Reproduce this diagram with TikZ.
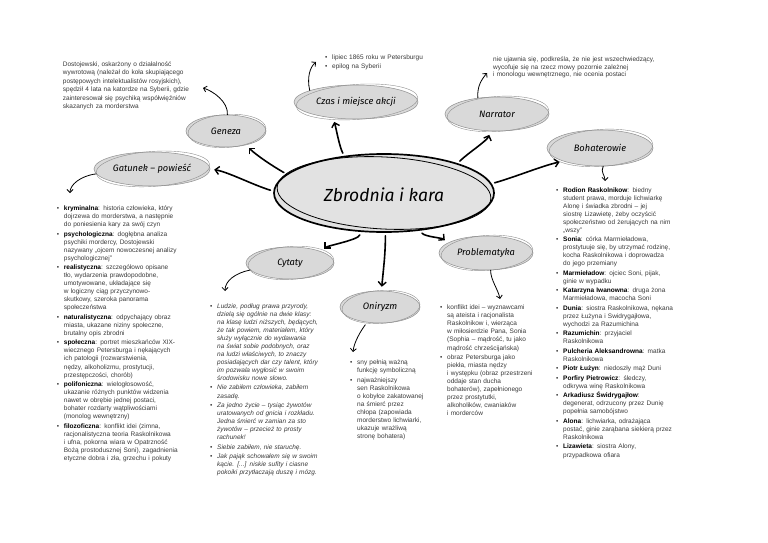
\documentclass[tikz,border=0pt]{standalone}
\usepackage{fontspec}
\setmainfont{Liberation Sans}
\newfontfamily\hand{Fira Sans}
\usetikzlibrary{shapes.geometric,arrows.meta}
\definecolor{bubfill}{HTML}{D9D9D9}
\definecolor{bubline}{HTML}{8E8E8E}
\definecolor{txtcol}{HTML}{3A3A3A}
\definecolor{cfill}{HTML}{E2E2E2}
\newcommand\bi[1]{\par\hangindent=7pt\hangafter=1\noindent\hbox to 7pt{\textbullet\hfil}#1\par\vspace{1.4pt}}
\newcommand\nl{\newline}
\newcommand\bb[1]{\textbf{\color{black}#1}}
\tikzset{
 bub/.style={ellipse, fill=bubfill, draw=bubline, line width=0.5pt, inner sep=0pt, font=\hand\itshape\fontsize{9.3}{11}\selectfont, text=black},
 bigarr/.style={line width=1.6pt, line cap=round, -{Straight Barb[length=4pt,width=8pt,line width=1.4pt]}, shorten <=3pt, shorten >=4pt},
 smallarr/.style={line width=0.8pt, line cap=round, -{Straight Barb[length=3pt,width=6pt,line width=0.8pt]}},
 txt/.style={anchor=north west, inner sep=0pt, text width=#1, align=left, font=\fontsize{6.5}{8.05}\selectfont, text=txtcol},
}
\newcommand\bubble[6]{%
 \node[bub, minimum width={2*#4}, minimum height={2*#5}] (#1) at (#2,#3) {#6};
 \draw[bubline, line width=0.4pt, rotate around={4:(#1.center)}] ([xshift=1pt]#1.center) ellipse [x radius={#4-1}, y radius={#5+0.5}];
}
\begin{document}
\begin{tikzpicture}[x=1pt,y=-1pt]
\useasboundingbox (0,0) rectangle (768,543);
\fill[white] (0,0) rectangle (768,543);

% central
\node[ellipse, fill=cfill, draw=black, line width=1.7pt, minimum width=220, minimum height=78, inner sep=0pt] (c) at (384,193) {};
\draw[line width=0.8pt, rotate around={-3:(c.center)}] (c.center) ellipse [x radius=107, y radius=36];
\node[font=\hand\itshape\fontsize{17.5}{20}\selectfont] (ct) at (384,195) {Zbrodnia i kara};

% bubbles
\bubble{gen}{226}{131}{40}{16}{Geneza}
\bubble{czas}{356}{102}{62}{17}{Czas i miejsce akcji}
\bubble{nar}{497}{114}{52}{17}{Narrator}
\bubble{boh}{600}{148}{53}{18}{Bohaterowie}
\bubble{gat}{152}{169}{58}{17}{Gatunek – powieść}
\bubble{cyt}{290}{263}{44}{16}{Cytaty}
\bubble{oni}{380}{307}{40}{16}{Oniryzm}
\bubble{prob}{486}{253}{47}{17}{Problematyka}

% big arrows
\draw[bigarr] (c.179) .. controls +(-20,-6) and +(18,3) .. (gat.0);
\draw[bigarr] (c.169) .. controls +(-14,-8) and +(10,10) .. (gen.-35);
\draw[bigarr] (c.137) .. controls +(-5,-10) and +(3,10) .. (czas.-145);
\draw[bigarr] (c.22) .. controls +(10,-10) and +(-4,10) .. (nar.-110);
\draw[bigarr] (c.5) .. controls +(22,-6) and +(-20,4) .. (boh.200);
\draw[bigarr] (c.-121) .. controls +(-2,8) and +(6,-6) .. (cyt.20);
\draw[bigarr] (c.-88) .. controls +(0,22) and +(2,-22) .. (oni.85);
\draw[bigarr] (c.-46) .. controls +(4,6) and +(-6,-5) .. (prob.165);

% small arrows
\coordinate (gT) at (203,88);
\draw[smallarr] (gen.85) .. controls +(1,-13) and +(10,3) .. (gT);
\coordinate (czT) at (316,62);
\draw[smallarr] (czas.166) .. controls +(-3,-13) and +(-6,5) .. (czT);
\coordinate (nT) at (487,73);
\draw[smallarr] (nar.140) .. controls +(-1,-12) and +(-5,6) .. (nT);
\coordinate (bT) at (605,181);
\draw[smallarr] (boh.-80) .. controls +(-3,6) and +(0,-6) .. (bT);
\coordinate (gaT) at (70,193);
\draw[smallarr] (gat.185) .. controls +(-16,2) and +(0,-8) .. (gaT);
\coordinate (cyT) at (225,291);
\draw[smallarr] (cyt.-170) .. controls +(-15,3) and +(0,-10) .. (cyT);
\coordinate (oT) at (353,352);
\draw[smallarr, shorten <=3pt] (oni.-130) .. controls +(-6,8) and +(1,-10) .. (oT);
\coordinate (pT) at (500,299);
\draw[smallarr] (prob.-75) .. controls +(0,10) and +(-2,-10) .. (pT);

% texts
\node[txt=170, font=\fontsize{6.5}{8.4}\selectfont] (dost) at (62.7,61.5) {Dostojewski, oskarżony o działalność\nl wywrotową (należał do koła skupiającego\nl postępowych intelektualistów rosyjskich),\nl spędził 4 lata na katordze na Syberii, gdzie\nl zainteresował się psychiką współwięźniów\nl skazanych za morderstwa};

\node[txt=150, font=\fontsize{6.5}{7.8}\selectfont] (czl) at (325,51.5) {\bi{lipiec 1865 roku w Petersburgu}\bi{epilog na Syberii}};

\node[txt=220, font=\fontsize{6.5}{7.5}\selectfont] (narl) at (493,57) {nie ujawnia się, podkreśla, że nie jest wszechwiedzący,\nl wycofuje się na rzecz mowy pozornie zależnej\nl i monologu wewnętrznego, nie ocenia postaci};

\node[txt=170] (gatl) at (56.7,202.2) {%
\bi{\bb{kryminalna}: historia człowieka, który\nl dojrzewa do morderstwa, a następnie\nl do poniesienia kary za swój czyn}%
\bi{\bb{psychologiczna}: dogłębna analiza\nl psychiki mordercy, Dostojewski\nl nazywany „ojcem nowoczesnej analizy\nl psychologicznej”}%
\bi{\bb{realistyczna}: szczegółowo opisane\nl tło, wydarzenia prawdopodobne,\nl umotywowane, układające się\nl w logiczny ciąg przyczynowo-\nl skutkowy, szeroka panorama\nl społeczeństwa}%
\bi{\bb{naturalistyczna}: odpychający obraz\nl miasta, ukazane niziny społeczne,\nl brutalny opis zbrodni}%
\bi{\bb{społeczna}: portret mieszkańców XIX-\nl wiecznego Petersburga i nękających\nl ich patologii (rozwarstwienia,\nl nędzy, alkoholizmu, prostytucji,\nl przestępczości, chorób)}%
\bi{\bb{polifoniczna}: wielogłosowość,\nl ukazanie różnych punktów widzenia\nl nawet w obrębie jednej postaci,\nl bohater rozdarty wątpliwościami\nl (monolog wewnętrzny)}%
\bi{\bb{filozoficzna}: konflikt idei (zimna,\nl racjonalistyczna teoria Raskolnikowa\nl i ufna, pokorna wiara w Opatrzność\nl Bożą prostodusznej Soni), zagadnienia\nl etyczne dobra i zła, grzechu i pokuty}};

\node[txt=160] (cytl) at (210,299.8) {%
\bi{\itshape Ludzie, podług prawa przyrody,\nl dzielą się ogólnie na dwie klasy:\nl na klasę ludzi niższych, będących,\nl że tak powiem, materiałem, który\nl służy wyłącznie do wydawania\nl na świat sobie podobnych, oraz\nl na ludzi właściwych, to znaczy\nl posiadających dar czy talent, który\nl im pozwala wygłosić w swoim\nl środowisku nowe słowo.}%
\bi{\itshape Nie zabiłem człowieka, zabiłem\nl zasadę.}%
\bi{\itshape Za jedno życie – tysiąc żywotów\nl uratowanych od gnicia i rozkładu.\nl Jedna śmierć w zamian za sto\nl żywotów – przecież to prosty\nl rachunek!}%
\bi{Siebie zabiłem, nie staruchę.}%
\bi{\itshape Jak pająk schowałem się w swoim\nl kącie. [...] niskie sufity i ciasne\nl pokoiki przytłaczają duszę i mózg.}};

\node[txt=95] (onil) at (350,356.5) {%
\bi{sny pełnią ważną\nl funkcję symboliczną}%
\bi{najważniejszy\nl sen Raskolnikowa\nl o kobyłce zakatowanej\nl na śmierć przez\nl chłopa (zapowiada\nl morderstwo lichwiarki,\nl ukazuje wrażliwą\nl stronę bohatera)}};

\node[txt=120] (probl) at (440,301.5) {%
\bi{konflikt idei – wyznawcami\nl są ateista i racjonalista\nl Raskolnikow i, wierząca\nl w miłosierdzie Pana, Sonia\nl (Sophia – mądrość, tu jako\nl mądrość chrześcijańska)}%
\bi{obraz Petersburga jako\nl piekła, miasta nędzy\nl i występku (obraz przestrzeni\nl oddaje stan ducha\nl bohaterów), zapełnionego\nl przez prostytutki,\nl alkoholików, cwaniaków\nl i morderców}};

\node[txt=170] (bohl) at (556,183.8) {%
\bi{\bb{Rodion Raskolnikow}: biedny\nl student prawa, morduje lichwiarkę\nl Alonę i świadka zbrodni – jej\nl siostrę Lizawietę, żeby oczyścić\nl społeczeństwo od żerujących na nim\nl „wszy”}%
\bi{\bb{Sonia}: córka Marmieładowa,\nl prostytuuje się, by utrzymać rodzinę,\nl kocha Raskolnikowa i doprowadza\nl do jego przemiany}%
\bi{\bb{Marmieładow}: ojciec Soni, pijak,\nl ginie w wypadku}%
\bi{\bb{Katarzyna Iwanowna}: druga żona\nl Marmieładowa, macocha Soni}%
\bi{\bb{Dunia}: siostra Raskolnikowa, nękana\nl przez Łużyna i Swidrygajłowa,\nl wychodzi za Razumichina}%
\bi{\bb{Razumichin}: przyjaciel\nl Raskolnikowa}%
\bi{\bb{Pulcheria Aleksandrowna}: matka\nl Raskolnikowa}%
\bi{\bb{Piotr Łużyn}: niedoszły mąż Duni}%
\bi{\bb{Porfiry Pietrowicz}: śledczy,\nl odkrywa winę Raskolnikowa}%
\bi{\bb{Arkadiusz Świdrygajłow}:\nl degenerat, odrzucony przez Dunię\nl popełnia samobójstwo}%
\bi{\bb{Alona}: lichwiarka, odrażająca\nl postać, ginie zarąbana siekierą przez\nl Raskolnikowa}%
\bi{\bb{Lizawieta}: siostra Alony,\nl przypadkowa ofiara}};
\end{tikzpicture}
\end{document}
